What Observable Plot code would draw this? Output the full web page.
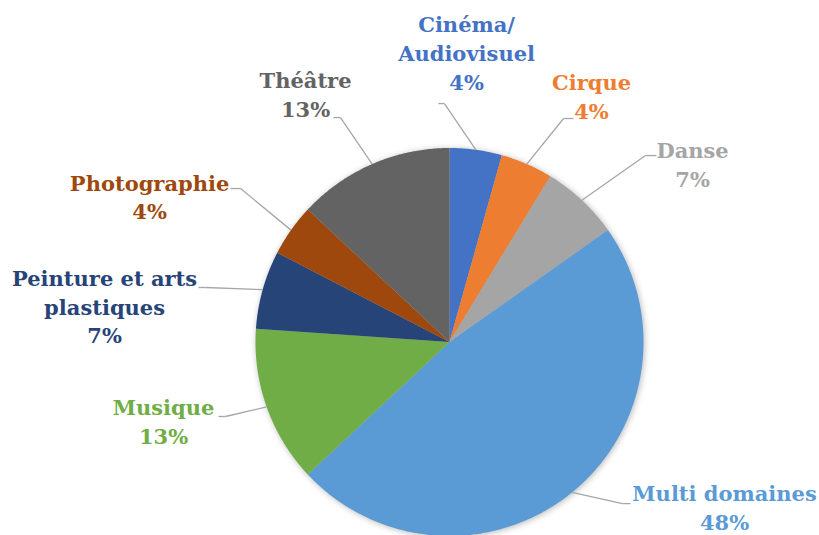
<!DOCTYPE html>
<html>
<head>
<meta charset="utf-8">
<script src="https://cdn.jsdelivr.net/npm/d3@7"></script>
<script src="https://cdn.jsdelivr.net/npm/@observablehq/plot@0.6"></script>
<style>
  html, body { margin: 0; padding: 0; background: #fff; }
  #chart svg { display: block; overflow: visible; }
  #chart g[aria-label="line"] { filter: drop-shadow(1px 1px 3px rgba(0,0,0,0.28)); }
</style>
</head>
<body>
<div id="chart"></div>
<script>
// ---- Data (clockwise from 12 o'clock) ----
const categories = ["Cinéma/Audiovisuel", "Cirque", "Danse", "Multi domaines", "Musique", "Peinture et arts plastiques", "Photographie", "Théâtre"];
const labelTexts = ["Cinéma/\nAudiovisuel", "Cirque", "Danse", "Multi domaines", "Musique", "Peinture et arts\nplastiques", "Photographie", "Théâtre"];
const counts = [2, 2, 3, 22, 6, 3, 2, 6];
const colors = ["#4472C4", "#ED7D31", "#A5A5A5", "#5B9BD5", "#70AD47", "#264478", "#9E480E", "#636363"];

// ---- Layout of the data labels (in pie radii, relative to the centre) ----
const labelCenters = [[0.088, 1.495], [0.732, 1.271], [1.253, 0.920], [1.418, -0.846], [-1.474, -0.405], [-1.778, 0.188], [-1.546, 0.753], [-0.742, 1.281]];
// leader: [x of end near label, x of elbow, y of horizontal part]
const leaders = [[-0.057, -0.026, 1.229], [0.639, 0.588, 1.152], [1.067, 1.010, 0.961], [0.933, 0.892, -0.833], [-1.191, -1.155, -0.384], [-1.294, -1.258, 0.281], [-1.129, -1.077, 0.791], [-0.598, -0.562, 1.157]];

const total = d3.sum(counts);
let acc = 0;
const slices = categories.map((c, i) => {
  const a0 = acc / total * 2 * Math.PI;
  acc += counts[i];
  const a1 = acc / total * 2 * Math.PI;
  return {cat: c, a0, a1, mid: (a0 + a1) / 2, pct: Math.round(counts[i] / total * 100) + "%", i};
});

// polygon points of each slice
const slicePts = [];
for (const s of slices) {
  slicePts.push({cat: s.cat, x: 0, y: 0});
  const n = Math.max(2, Math.ceil((s.a1 - s.a0) / (Math.PI / 360)));
  for (let k = 0; k <= n; k++) {
    const a = s.a0 + (s.a1 - s.a0) * k / n;
    slicePts.push({cat: s.cat, x: Math.sin(a), y: Math.cos(a)});
  }
}

// leader segments
const segs = [];
for (const s of slices) {
  const [xe, xb, yh] = leaders[s.i];
  segs.push({x1: xe, y1: yh, x2: xb, y2: yh});
  segs.push({x1: xb, y1: yh, x2: Math.sin(s.mid), y2: Math.cos(s.mid)});
}

const labels = slices.map(s => ({cat: s.cat, x: labelCenters[s.i][0], y: labelCenters[s.i][1], text: labelTexts[s.i] + "\n" + s.pct}));

const W = 819, H = 535, R = 194, cx = 449, cy = 341.5;
const chart = Plot.plot({
  width: W, height: H,
  margin: 0,
  x: {domain: [-cx / R, (W - cx) / R], axis: null},
  y: {domain: [-(H - cy) / R, cy / R], axis: null},
  color: {domain: categories, range: colors},
  marks: [
    Plot.line(slicePts, {x: "x", y: "y", z: "cat", fill: "cat", stroke: "none", curve: "linear-closed"}),
    Plot.link(segs, {x1: "x1", y1: "y1", x2: "x2", y2: "y2", stroke: "#A6A6A6", strokeWidth: 1.3}),
    Plot.text(labels, {x: "x", y: "y", text: "text", fill: "cat", fontSize: 21, fontWeight: "bold", fontFamily: "DejaVu Serif", lineHeight: 1.37, lineAnchor: "middle", textAnchor: "middle"})
  ]
});
document.getElementById("chart").appendChild(chart);
</script>
</body>
</html>
